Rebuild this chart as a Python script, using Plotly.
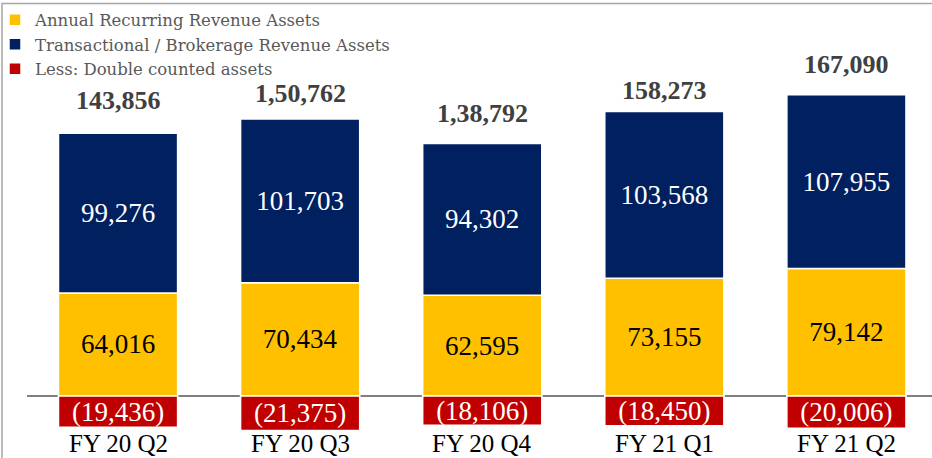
import plotly.graph_objects as go

categories = ["FY 20 Q2", "FY 20 Q3", "FY 20 Q4", "FY 21 Q1", "FY 21 Q2"]
annual_recurring = [64016, 70434, 62595, 73155, 79142]
transactional = [99276, 101703, 94302, 103568, 107955]
double_counted = [-19436, -21375, -18106, -18450, -20006]
total_labels = ["143,856", "1,50,762", "1,38,792", "158,273", "167,090"]

# vertical offsets (px) of the total labels above each bar, as laid out in the original
total_label_shift = [16, 9, 13, 5, 14]

FONT = "Liberation Serif"
LEGEND_FONT = "DejaVu Serif"
YELLOW = "#FFC000"
NAVY = "#002060"
RED = "#C00000"

def fmt(v):
    s = f"{abs(v):,}"
    return f"({s})" if v < 0 else s

fig = go.Figure()
common = dict(
    textposition="inside",
    insidetextanchor="middle",
    textangle=0,
    constraintext="none",
    marker_line=dict(color="white", width=1.5),
    hoverinfo="skip",
)
fig.add_bar(x=categories, y=annual_recurring, name="Annual Recurring Revenue Assets",
            marker_color=YELLOW, text=[fmt(v) for v in annual_recurring],
            textfont=dict(family=FONT, size=27, color="black"), **common)
fig.add_bar(x=categories, y=transactional, name="Transactional / Brokerage Revenue Assets",
            marker_color=NAVY, text=[fmt(v) for v in transactional],
            textfont=dict(family=FONT, size=27, color="white"), **common)
fig.add_bar(x=categories, y=double_counted, name="Less: Double counted assets",
            marker_color=RED, text=[fmt(v) for v in double_counted],
            textfont=dict(family=FONT, size=27, color="white"), **common)

annotations = []
for c, a, t, lab, sh in zip(categories, annual_recurring, transactional, total_labels,
                            total_label_shift):
    annotations.append(dict(x=c, y=a + t, xref="x", yref="y", text=f"<b>{lab}</b>",
                            showarrow=False, yanchor="bottom", yshift=sh,
                            font=dict(family=FONT, size=26, color="#404040")))
    annotations.append(dict(x=c, y=0, xref="x", yref="y", text=c, showarrow=False,
                            yanchor="middle", yshift=-47,
                            font=dict(family=FONT, size=25, color="black")))

fig.update_layout(
    width=932, height=458,
    margin=dict(l=27, r=0, t=0, b=0, autoexpand=False),
    barmode="relative",
    bargap=0.346,
    plot_bgcolor="white",
    paper_bgcolor="white",
    showlegend=True,
    legend=dict(x=-32 / 905, y=1 - 2.5 / 458, xanchor="left", yanchor="top",
                font=dict(family=LEGEND_FONT, size=16.5, color="#595959"),
                bgcolor="rgba(0,0,0,0)", traceorder="normal", tracegroupgap=0),
    xaxis=dict(range=[-0.5, 4.47], showticklabels=False, showgrid=False,
               zeroline=False, showline=False, ticks=""),
    yaxis=dict(range=[-38500, 246000], showticklabels=False, showgrid=False,
               zeroline=True, zerolinecolor="#7F7F7F", zerolinewidth=1.5,
               showline=False, ticks=""),
    annotations=annotations,
    shapes=[dict(type="rect", xref="paper", yref="paper",
                 x0=-25 / 905, x1=1.05, y0=-0.1, y1=(458 - 3.5) / 458,
                 line=dict(color="#A6A6A6", width=1.5), layer="above")],
)

fig.write_html("out.html", config={"displayModeBar": False},
               post_script="document.body.style.margin='0';")
